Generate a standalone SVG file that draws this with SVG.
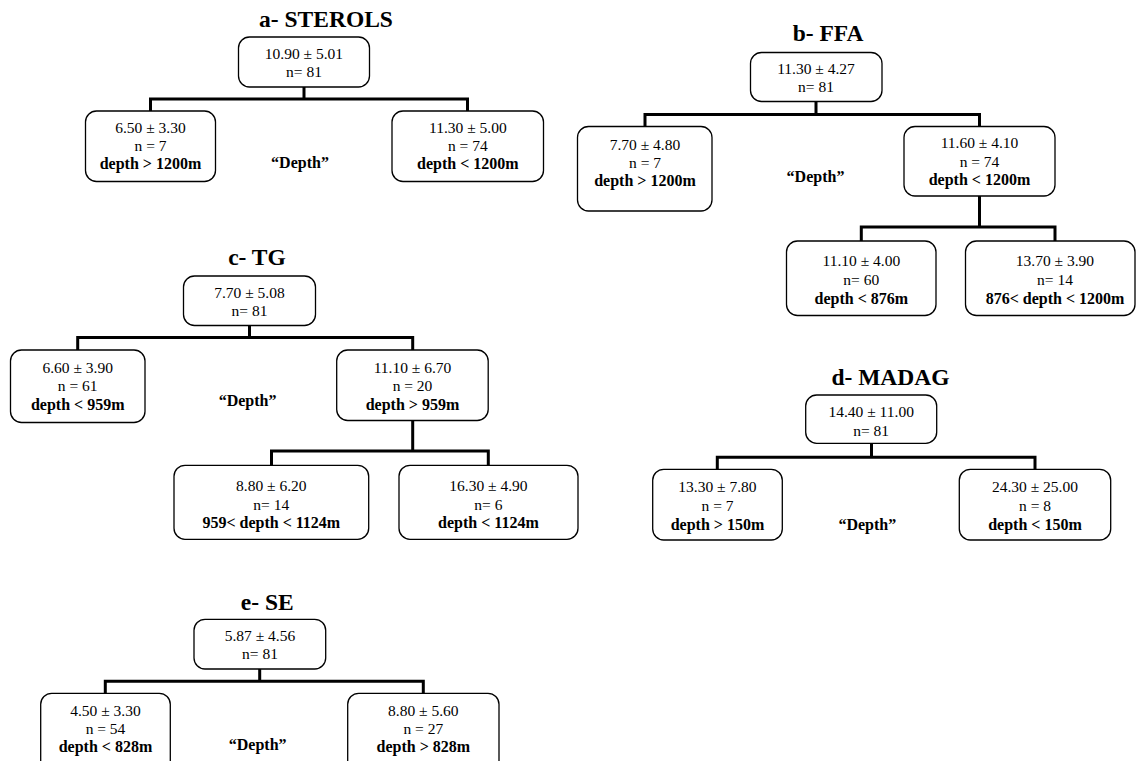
<svg xmlns="http://www.w3.org/2000/svg" width="1136" height="761" viewBox="0 0 1136 761">
<style>
text{font-family:"Liberation Serif","Times New Roman",serif;fill:#000;text-anchor:middle}
.t{font-size:23.5px;font-weight:bold}
.v{font-size:15.5px}
.b{font-size:16px;font-weight:bold}
.box{fill:#fff;stroke:#000;stroke-width:1.3}
.con{fill:none;stroke:#000;stroke-width:3}
</style>
<rect width="1136" height="761" fill="#fff"/>
<g id="connectors">
<path class="con" d="M304,87V99M150.5,111V99H467.5V111"/>
<path class="con" d="M816,101.5V114.5M645,126.5V114.5H979.5V126.5M979.5,196V227M861.3,241V227H1055V241"/>
<path class="con" d="M249.5,325.5V337.5M77.7,350V337.5H412.7V350M412.7,420.5V451M271.5,465.3V451H488.3V465.3"/>
<path class="con" d="M871.5,443.3V457.3M717.3,469.3V457.3H1035V469.3"/>
<path class="con" d="M259.7,669V681.3M105.3,693.3V681.3H423.3V693.3"/>
</g>
<g id="panel-a">
<text class="t" x="326" y="27">a- STEROLS</text>
<g id="a-root"><rect class="box" x="238.5" y="37" width="131" height="50" rx="11"/><text class="v" x="304" y="59">10.90 ± 5.01</text><text class="v" x="304" y="77">n= 81</text></g>
<g id="a-left"><rect class="box" x="85.5" y="111" width="130" height="70.5" rx="11"/><text class="v" x="150.5" y="133">6.50 ± 3.30</text><text class="v" x="150.5" y="151">n = 7</text><text class="b" x="150.5" y="169">depth &gt; 1200m</text></g>
<g id="a-right"><rect class="box" x="392" y="111" width="151.5" height="70.5" rx="11"/><text class="v" x="467.8" y="133">11.30 ± 5.00</text><text class="v" x="467.8" y="151">n = 74</text><text class="b" x="467.8" y="169">depth &lt; 1200m</text></g>
<text class="b" x="300" y="168">“Depth”</text>
</g>
<g id="panel-b">
<text class="t" x="828" y="40.5">b- FFA</text>
<g id="b-root"><rect class="box" x="750.5" y="52.5" width="131.5" height="49" rx="11"/><text class="v" x="816" y="74">11.30 ± 4.27</text><text class="v" x="816" y="92">n= 81</text></g>
<g id="b-left"><rect class="box" x="577.5" y="126.5" width="134.5" height="84.5" rx="11"/><text class="v" x="645" y="149.5">7.70 ± 4.80</text><text class="v" x="645" y="167.5">n = 7</text><text class="b" x="645" y="185.5">depth &gt; 1200m</text></g>
<g id="b-right"><rect class="box" x="904" y="126.5" width="151" height="69.5" rx="11"/><text class="v" x="979.5" y="148">11.60 ± 4.10</text><text class="v" x="979.5" y="166.5">n = 74</text><text class="b" x="979.5" y="185">depth &lt; 1200m</text></g>
<g id="b-rl"><rect class="box" x="786.5" y="241" width="149.5" height="74.5" rx="11"/><text class="v" x="861.3" y="265.5">11.10 ± 4.00</text><text class="v" x="861.3" y="284.5">n= 60</text><text class="b" x="861.3" y="303.5">depth &lt; 876m</text></g>
<g id="b-rr"><rect class="box" x="965.5" y="241" width="169.5" height="74.5" rx="11"/><text class="v" x="1055" y="265.5">13.70 ± 3.90</text><text class="v" x="1055" y="284.5">n= 14</text><text class="b" x="1055" y="303.5">876&lt; depth &lt; 1200m</text></g>
<text class="b" x="815.5" y="181.5">“Depth”</text>
</g>
<g id="panel-c">
<text class="t" x="257" y="265">c- TG</text>
<g id="c-root"><rect class="box" x="183.5" y="276" width="132" height="49.5" rx="11"/><text class="v" x="249.5" y="297.5">7.70 ± 5.08</text><text class="v" x="249.5" y="315.5">n= 81</text></g>
<g id="c-left"><rect class="box" x="10.5" y="350" width="134.5" height="72.5" rx="11"/><text class="v" x="77.7" y="372.5">6.60 ± 3.90</text><text class="v" x="77.7" y="391">n = 61</text><text class="b" x="77.7" y="409.5">depth &lt; 959m</text></g>
<g id="c-right"><rect class="box" x="336.7" y="350" width="151.5" height="70.5" rx="11"/><text class="v" x="412.5" y="372.5">11.10 ± 6.70</text><text class="v" x="412.5" y="391">n = 20</text><text class="b" x="412.5" y="409.5">depth &gt; 959m</text></g>
<g id="c-rl"><rect class="box" x="174" y="465.3" width="194.7" height="74" rx="11"/><text class="v" x="271.3" y="490.5">8.80 ± 6.20</text><text class="v" x="271.3" y="509.5">n= 14</text><text class="b" x="271.3" y="528">959&lt; depth &lt; 1124m</text></g>
<g id="c-rr"><rect class="box" x="399" y="465.3" width="179" height="74" rx="11"/><text class="v" x="488.4" y="490.5">16.30 ± 4.90</text><text class="v" x="488.4" y="509.5">n= 6</text><text class="b" x="488.4" y="528">depth &lt; 1124m</text></g>
<text class="b" x="247.6" y="406">“Depth”</text>
</g>
<g id="panel-d">
<text class="t" x="890.5" y="385">d- MADAG</text>
<g id="d-root"><rect class="box" x="805.7" y="395" width="131" height="48.3" rx="11"/><text class="v" x="871.2" y="417">14.40 ± 11.00</text><text class="v" x="871.2" y="436">n= 81</text></g>
<g id="d-left"><rect class="box" x="652.7" y="469.3" width="129.6" height="70.7" rx="11"/><text class="v" x="717.5" y="492">13.30 ± 7.80</text><text class="v" x="717.5" y="511">n = 7</text><text class="b" x="717.5" y="529.5">depth &gt; 150m</text></g>
<g id="d-right"><rect class="box" x="959.3" y="469.3" width="151.4" height="70.7" rx="11"/><text class="v" x="1035" y="492">24.30 ± 25.00</text><text class="v" x="1035" y="511">n = 8</text><text class="b" x="1035" y="529.5">depth &lt; 150m</text></g>
<text class="b" x="867.3" y="529.5">“Depth”</text>
</g>
<g id="panel-e">
<text class="t" x="267.3" y="610">e- SE</text>
<g id="e-root"><rect class="box" x="194" y="619.3" width="131.7" height="49.7" rx="11"/><text class="v" x="260" y="640.5">5.87 ± 4.56</text><text class="v" x="260" y="658.5">n= 81</text></g>
<g id="e-left"><rect class="box" x="40.7" y="693.3" width="129.6" height="80" rx="11"/><text class="v" x="105.5" y="715.5">4.50 ± 3.30</text><text class="v" x="105.5" y="733.5">n = 54</text><text class="b" x="105.5" y="752">depth &lt; 828m</text></g>
<g id="e-right"><rect class="box" x="347.7" y="693.3" width="151.3" height="80" rx="11"/><text class="v" x="423.3" y="715.5">8.80 ± 5.60</text><text class="v" x="423.3" y="733.5">n = 27</text><text class="b" x="423.3" y="752">depth &gt; 828m</text></g>
<text class="b" x="257.7" y="749.5">“Depth”</text>
</g>
</svg>
